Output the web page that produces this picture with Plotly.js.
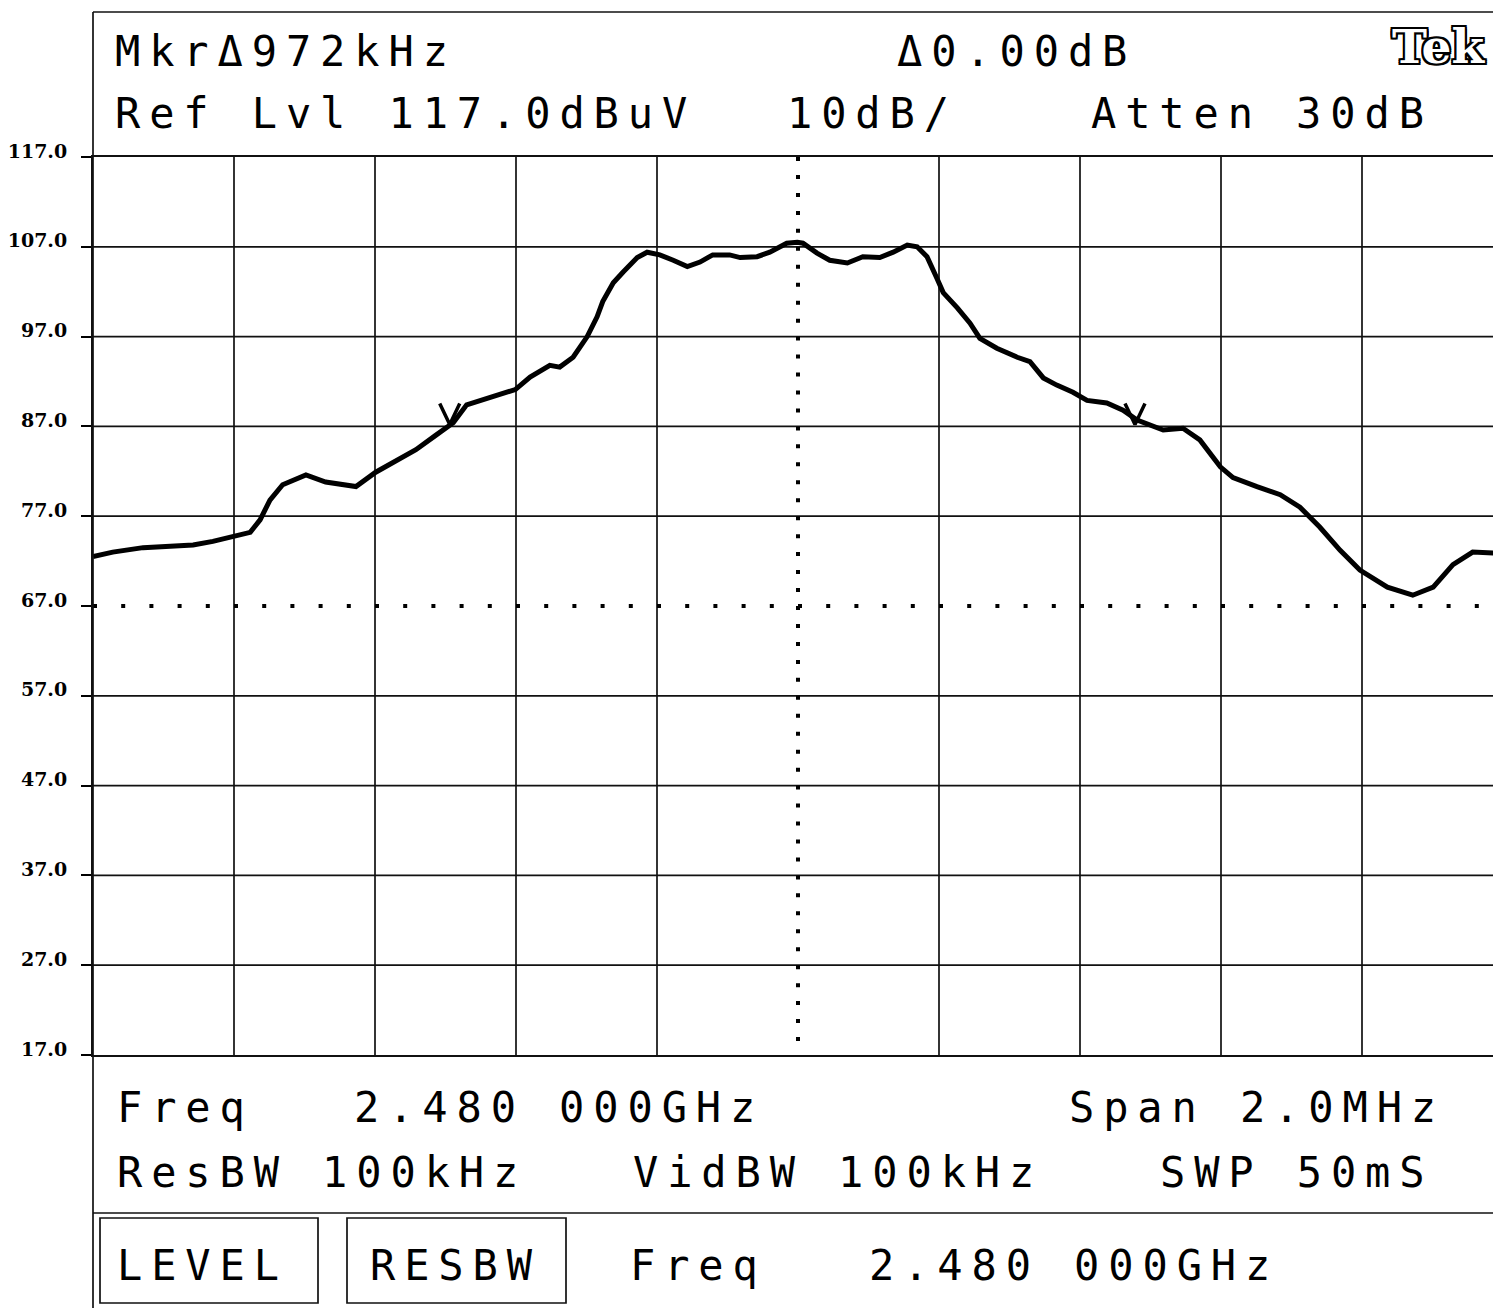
<!DOCTYPE html>
<html><head><meta charset="utf-8">
<script src="https://cdn.plot.ly/plotly-3.0.1.min.js"></script>
<style>html,body{margin:0;padding:0;background:#fff;overflow:hidden}#chart{width:1493px;height:1308px}</style>
</head><body><div id="chart"></div>
<script>
// ---- data (offset from 2.480 000 GHz centre, MHz) ----
const freqOffsetMHz = [
 -1.000,-0.972,-0.929,-0.901,-0.858,-0.830,-0.801,-0.777,-0.763,-0.749,
 -0.731,-0.698,-0.670,-0.627,-0.599,-0.575,-0.542,-0.514,-0.489,-0.470,
 -0.437,-0.401,-0.380,-0.352,-0.338,-0.319,-0.299,-0.285,-0.277,-0.262,
 -0.248,-0.228,-0.214,-0.196,-0.177,-0.157,-0.139,-0.121,-0.097,-0.082,
 -0.058,-0.040,-0.016,-0.001,0.007,0.027,0.045,0.070,0.092,0.116,
 0.135,0.155,0.169,0.183,0.197,0.206,0.226,0.244,0.258,0.282,
 0.311,0.329,0.348,0.367,0.390,0.410,0.438,0.461,0.481,0.518,
 0.546,0.570,0.599,0.617,0.651,0.684,0.712,0.740,0.769,0.797,
 0.836,0.872,0.901,0.929,0.957,0.986];
const levelDbuV = [
 72.5,73.0,73.5,73.6,73.8,74.2,74.7,75.2,76.6,78.8,
 80.5,81.6,80.8,80.3,81.9,82.9,84.4,86.0,87.4,89.4,
 90.2,91.1,92.5,93.8,93.6,94.7,97.0,99.2,100.9,103.0,
 104.2,105.8,106.4,106.1,105.5,104.8,105.3,106.1,106.1,105.8,
 105.9,106.4,107.4,107.5,107.4,106.3,105.5,105.2,105.9,105.8,
 106.4,107.2,107.0,105.9,103.5,101.9,100.2,98.5,96.8,95.7,
 94.7,94.2,92.4,91.6,90.8,89.9,89.6,88.8,87.7,86.6,
 86.8,85.5,82.5,81.3,80.3,79.4,78.0,75.8,73.2,71.0,
 69.1,68.2,69.1,71.6,73.0,72.9];
const markerFreqMHz = [-0.494, 0.478];   // delta marker pair, 972 kHz apart
const markerLevelDbuV = [87.2, 87.2];
const yTickValues = [17,27,37,47,57,67,77,87,97,107,117];
const xGridMHz = [-0.8,-0.6,-0.4,-0.2,0.2,0.4,0.6,0.8];
const yGridDbuV = [27,37,47,57,77,87,97,107];
const displayLineDbuV = 67;
const markerLineMHz = 0;

const headerTexts = ['MkrΔ972kHz','Δ0.00dB','Ref Lvl 117.0dBuV','10dB/','Atten 30dB'];
const footerTexts = ['Freq','2.480 000GHz','Span 2.0MHz','ResBW 100kHz','VidBW 100kHz','SWP 50mS'];
const softkeyTexts = ['LEVEL','RESBW','Freq','2.480 000GHz'];

// ---- layout geometry ----
const W = 1493, H = 1308, ML = 93, MT = 157, MB = 253, MR = 0;
const PW = W - ML - MR, PH = H - MT - MB;
const xStart = -1.0, divPx = 141, divMHz = 0.2;
const xEnd = xStart + PW / divPx * divMHz;
const px2p = px => (px - ML) / PW;
const py2p = py => (H - MB - py) / PH;

const monoFont = {family:'DejaVu Sans Mono', size:42, color:'#000'};
const LS = 8.9;
function txt(t, inkX, baseline){
  return {xref:'paper', yref:'paper', x:px2p(inkX-5), y:py2p(baseline-14.5),
    xanchor:'left', yanchor:'middle', showarrow:false,
    text:'<span style="letter-spacing:'+LS+'px">'+t+'</span>', font:monoFont};
}
const annotations = [
  txt(headerTexts[0],118,66), txt(headerTexts[1],900,66),
  txt(headerTexts[2],118,128), txt(headerTexts[3],790,128), txt(headerTexts[4],1094,128),
  txt(footerTexts[0],120,1122), txt(footerTexts[1],357,1122), txt(footerTexts[2],1072,1122),
  txt(footerTexts[3],120,1187), txt(footerTexts[4],636,1187), txt(footerTexts[5],1163,1187),
  txt(softkeyTexts[0],120,1280), txt(softkeyTexts[1],373,1280), txt(softkeyTexts[2],633,1280), txt(softkeyTexts[3],872,1280),
  {xref:'paper', yref:'paper', x:px2p(1390), y:py2p(47), xanchor:'left', yanchor:'middle', showarrow:false,
   text:'Tek', font:{family:'DejaVu Serif', size:47, weight:'bold', color:'#fff',
   shadow:'2px 0 0 #000,-2px 0 0 #000,0 2px 0 #000,0 -2px 0 #000,2px 2px 0 #000,-2px -2px 0 #000,2px -2px 0 #000,-2px 2px 0 #000'}}
];

const gridLine = {color:'#111', width:1.7};
const shapes = [];
xGridMHz.forEach(f => shapes.push({type:'line', layer:'below', xref:'x', yref:'y', x0:f, x1:f, y0:17, y1:117, line:gridLine}));
yGridDbuV.forEach(l => shapes.push({type:'line', layer:'below', xref:'paper', yref:'y', x0:0, x1:1, y0:l, y1:l, line:gridLine}));
const hDot = PW/(xEnd-xStart)*0.04, vDot = PH/100*2;
shapes.push({type:'line', layer:'below', xref:'x', yref:'y', x0:xStart, x1:xEnd, y0:displayLineDbuV, y1:displayLineDbuV,
  line:{color:'#000', width:4, dash:'4px,'+(hDot-4).toFixed(2)+'px'}});
shapes.push({type:'line', layer:'below', xref:'x', yref:'y', x0:markerLineMHz, x1:markerLineMHz, y0:117, y1:17,
  line:{color:'#000', width:4, dash:'4px,'+(vDot-4).toFixed(2)+'px'}});
// instrument frame
const frame = {color:'#111', width:1.7};
shapes.push({type:'line', xref:'paper', yref:'paper', x0:0, x1:1, y0:py2p(12), y1:py2p(12), line:frame});
shapes.push({type:'line', xref:'paper', yref:'paper', x0:0, x1:0, y0:py2p(12), y1:py2p(1308), line:frame});
shapes.push({type:'line', xref:'paper', yref:'paper', x0:0, x1:1, y0:py2p(1213), y1:py2p(1213), line:frame});
shapes.push({type:'rect', xref:'paper', yref:'paper', x0:px2p(100), x1:px2p(318), y0:py2p(1218), y1:py2p(1303), line:frame});
shapes.push({type:'rect', xref:'paper', yref:'paper', x0:px2p(347), x1:px2p(566), y0:py2p(1218), y1:py2p(1303), line:frame});

// delta-marker "V" glyphs built from marker data
const vdx = 10/PW*(xEnd-xStart), vdy = 21/PH*100;
const mx = [], my = [];
markerFreqMHz.forEach((f,i) => { mx.push(f-vdx, f, f+vdx, null); my.push(markerLevelDbuV[i]+vdy, markerLevelDbuV[i], markerLevelDbuV[i]+vdy, null); });

const traces = [
  {type:'scatter', mode:'lines', x:freqOffsetMHz, y:levelDbuV, line:{color:'#000', width:5}, hoverinfo:'skip'},
  {type:'scatter', mode:'lines', x:mx, y:my, line:{color:'#000', width:3.5}, hoverinfo:'skip'}
];

const layout = {
  width:W, height:H, margin:{l:ML, r:MR, t:MT, b:MB, pad:0},
  paper_bgcolor:'#fff', plot_bgcolor:'#fff', showlegend:false,
  xaxis:{range:[xStart, xEnd], showticklabels:false, ticks:'', showgrid:false, zeroline:false,
    showline:true, mirror:true, linecolor:'#111', linewidth:2},
  yaxis:{range:[17,117], tickmode:'array', tickvals:yTickValues, tickformat:'.1f',
    ticks:'outside', ticklen:10, tickwidth:2, tickcolor:'#000', ticklabelstandoff:10, ticklabelshift:-6,
    showgrid:false, zeroline:false, showline:true, linecolor:'#111', linewidth:2,
    tickfont:{family:'DejaVu Serif', size:19, weight:'bold', color:'#000'}},
  shapes:shapes, annotations:annotations
};
Plotly.newPlot('chart', traces, layout, {displayModeBar:false, staticPlot:true});
</script></body></html>
